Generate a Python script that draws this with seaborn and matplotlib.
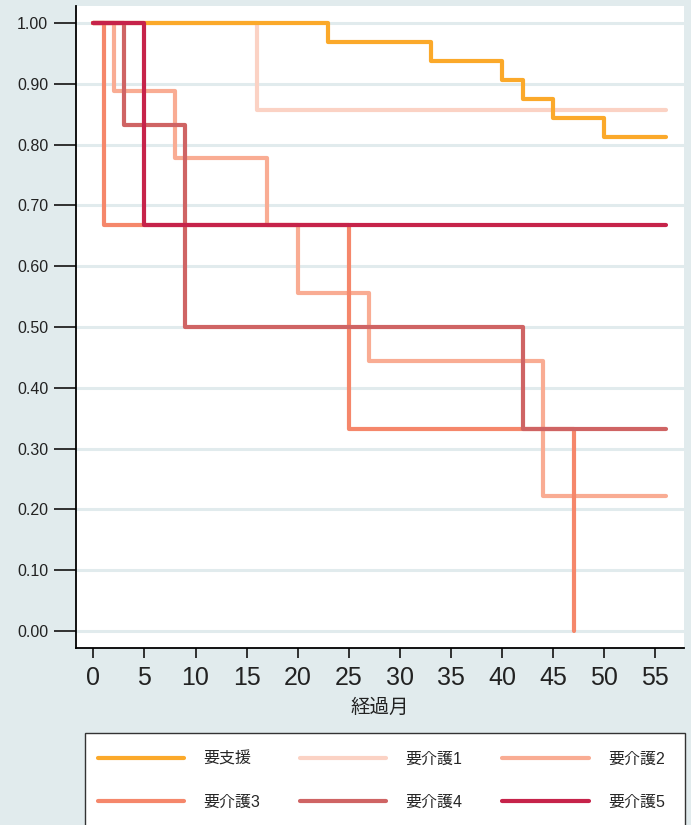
import numpy as np
import pandas as pd
import matplotlib
matplotlib.use("Agg")
import matplotlib.pyplot as plt
import seaborn as sns
from matplotlib.patches import Rectangle

# ---- data (Kaplan-Meier style step curves) ----
groups = ["要支援", "要介護1", "要介護2", "要介護3", "要介護4", "要介護5"]
t_shien = [0, 23, 33, 40, 42, 45, 50, 56]
s_shien = [1.0, 0.969, 0.9375, 0.906, 0.875, 0.844, 0.8125, 0.8125]
t_k1 = [0, 16, 56]
s_k1 = [1.0, 0.857, 0.857]
t_k2 = [0, 2, 8, 17, 20, 27, 44, 56]
s_k2 = [1.0, 0.889, 0.778, 0.667, 0.556, 0.444, 0.222, 0.222]
t_k3 = [0, 1, 25, 47]
s_k3 = [1.0, 0.667, 0.333, 0.0]
t_k4 = [0, 3, 9, 42, 56]
s_k4 = [1.0, 0.833, 0.5, 0.333, 0.333]
t_k5 = [0, 5, 56]
s_k5 = [1.0, 0.667, 0.667]
colors = ["#FBA92A", "#FBD2C4", "#F9AC93", "#F5876B", "#CF6464", "#C6234A"]

times = [t_shien, t_k1, t_k2, t_k3, t_k4, t_k5]
survs = [s_shien, s_k1, s_k2, s_k3, s_k4, s_k5]
rows = []
for g, tt, ss in zip(groups, times, survs):
    for t, s in zip(tt, ss):
        rows.append({"group": g, "month": t, "surv": s})
df = pd.DataFrame(rows)

sns.set_theme(style="white")
plt.rcParams["font.family"] = ["Liberation Sans", "Noto Sans CJK JP", "DejaVu Sans"]

bg = "#E1EBED"
fig = plt.figure(figsize=(6.91, 8.25), dpi=100, facecolor=bg)
ax = fig.add_axes([76 / 691, 1 - 648 / 825, (684 - 76) / 691, (648 - 6) / 825])
ax.set_facecolor("white")

zorders = [4.5, 3.0, 3.1, 3.2, 3.3, 5.0]
for g, c, z in zip(groups, colors, zorders):
    sub = df[df["group"] == g]
    sns.lineplot(data=sub, x="month", y="surv", ax=ax, color=c, lw=2.3,
                 drawstyle="steps-post", label=g, sort=False, alpha=0.9,
                 estimator=None, zorder=z)

ax.set_xlim(-1.70, 57.8)
ax.set_ylim(-0.028, 1.028)
ax.set_xticks(np.arange(0, 56, 5))
ax.set_yticks(np.round(np.arange(0, 1.01, 0.1), 2))
ax.set_yticklabels([f"{v:.2f}" for v in np.arange(0, 1.01, 0.1)])
ax.grid(axis="y", color=bg, lw=2.2, zorder=0)
ax.grid(axis="x", visible=False)
for s in ["top", "right"]:
    ax.spines[s].set_visible(False)
for s in ["left", "bottom"]:
    ax.spines[s].set_color("black")
    ax.spines[s].set_linewidth(1.3)
ax.tick_params(axis="y", length=16, width=1.3, color="#222222", labelsize=11.5, pad=4, left=True)
ax.tick_params(axis="x", length=7, width=1.3, color="#222222", labelsize=18, pad=6, bottom=True)
ax.set_xlabel("経過月", fontsize=14, labelpad=6, color="#222222")
ax.set_ylabel("")
for lab in ax.get_xticklabels() + ax.get_yticklabels():
    lab.set_color("#222222")

handles, labels = ax.get_legend_handles_labels()
ax.get_legend().remove()
for h in handles:
    h.set_alpha(1)
    h.set_linewidth(3)
# legend frame box
fig.patches.append(Rectangle((85 / 691, -0.05), 600 / 691, 1 - 733 / 825 + 0.05,
                             transform=fig.transFigure, facecolor="white",
                             edgecolor="#333333", lw=1.0, zorder=0))
order = [0, 3, 1, 4, 2, 5]
leg = fig.legend([handles[i] for i in order], [labels[i] for i in order],
                 ncol=3, loc="upper left", bbox_to_anchor=(93 / 691, 1 - 747 / 825),
                 frameon=False, fontsize=11.5, handlelength=5.4, handletextpad=1.2,
                 columnspacing=2.5, labelspacing=1.75, borderaxespad=0, borderpad=0.3)

fig.savefig("out.png", dpi=100, facecolor=bg)
